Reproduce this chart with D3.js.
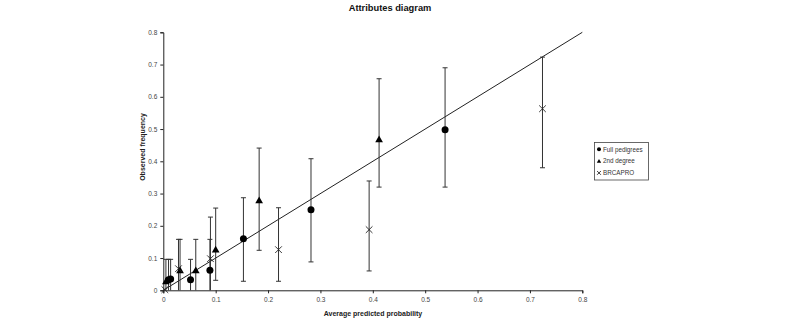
<!DOCTYPE html>
<html>
<head>
<meta charset="utf-8">
<script src="https://cdn.jsdelivr.net/npm/d3@7"></script>
<style>
  body { margin: 0; background: #fff; }
  svg { font-family: "Liberation Sans", Arial, sans-serif; }
</style>
</head>
<body>
<div id="chart"></div>
<script>
// Attributes diagram: predicted vs observed, with 95% intervals

const ticks = [0, 0.1, 0.2, 0.3, 0.4, 0.5, 0.6, 0.7, 0.8];

// Full pedigrees
const fullX = [0.010, 0.014, 0.052, 0.089, 0.153, 0.282, 0.538];
const fullY = [0.033, 0.035, 0.033, 0.062, 0.160, 0.250, 0.498];
const fullLo = [0, 0, 0, 0, 0.028, 0.088, 0.320];
const fullHi = [0.096, 0.096, 0.096, 0.158, 0.287, 0.408, 0.690];

// 2nd degree
const secX = [0.005, 0.032, 0.062, 0.100, 0.183, 0.412];
const secY = [0.028, 0.062, 0.062, 0.126, 0.279, 0.468];
const secLo = [0, 0, 0, 0.031, 0.124, 0.320];
const secHi = [0.096, 0.158, 0.158, 0.255, 0.441, 0.656];

// BRCAPRO
const brcaX = [0.003, 0.029, 0.090, 0.220, 0.393, 0.724];
const brcaY = [0.002, 0.067, 0.098, 0.126, 0.188, 0.563];
const brcaLo = [0, 0, 0, 0.028, 0.060, 0.380];
const brcaHi = [0.002, 0.158, 0.227, 0.256, 0.339, 0.723];

const width = 785, height = 320;

const svg = d3.select('#chart')
    .append('svg')
    .attr('width', width)
    .attr('height', height);

const x = d3.scaleLinear().domain([0, 0.8]).range([163.3, 582.3]);
const y = d3.scaleLinear().domain([0, 0.8]).range([290.3, 32.3]);

function rows(xs, ys, lo, hi) {
    return xs.map((v, i) => ({ x: v, y: ys[i], lo: lo[i], hi: hi[i] }));
}

const series = [
    { name: 'Full pedigrees', shape: 'circle', data: rows(fullX, fullY, fullLo, fullHi) },
    { name: '2nd degree', shape: 'triangle', data: rows(secX, secY, secLo, secHi) },
    { name: 'BRCAPRO', shape: 'cross', data: rows(brcaX, brcaY, brcaLo, brcaHi) }
];

// Title
svg.append('text')
    .attr('x', 390)
    .attr('y', 11)
    .attr('text-anchor', 'middle')
    .attr('font-size', '9.3px')
    .attr('font-weight', 'bold')
    .attr('fill', '#111')
    .text('Attributes diagram');

// Axes
const xAxis = svg.append('g')
    .attr('transform', `translate(0,${y(0)})`)
    .call(d3.axisBottom(x).tickValues(ticks).tickSize(3).tickFormat(d => d === 0 ? '0' : d3.format('.1f')(d)));

const yAxis = svg.append('g')
    .attr('transform', `translate(${x(0)},0)`)
    .call(d3.axisLeft(y).tickValues(ticks).tickSize(3).tickFormat(d => d === 0 ? '0' : d3.format('.1f')(d)));

[xAxis, yAxis].forEach(a => {
    a.select('.domain').attr('stroke', '#222').attr('stroke-width', 1);
    a.selectAll('.tick line').attr('stroke', '#222');
    a.selectAll('.tick text')
        .attr('font-size', '6.5px')
        .attr('fill', '#444')
        .attr('font-family', '"Liberation Sans", Arial, sans-serif');
});
xAxis.selectAll('.tick text').attr('dy', '0.9em');
yAxis.selectAll('.tick text').attr('x', -6);

// Axis titles
svg.append('text')
    .attr('x', 373)
    .attr('y', 316)
    .attr('text-anchor', 'middle')
    .attr('font-size', '7px')
    .attr('font-weight', 'bold')
    .attr('fill', '#222')
    .text('Average predicted probability');

svg.append('text')
    .attr('transform', `translate(144.5,147) rotate(-90)`)
    .attr('text-anchor', 'middle')
    .attr('font-size', '7px')
    .attr('font-weight', 'bold')
    .attr('fill', '#222')
    .text('Observed frequency');

// Diagonal (perfect calibration)
svg.append('line')
    .attr('x1', x(0)).attr('y1', y(0))
    .attr('x2', x(0.8)).attr('y2', y(0.8))
    .attr('stroke', '#222')
    .attr('stroke-width', 1);

// Error bars
const cap = 2.5;
series.forEach(s => {
    const g = svg.append('g');
    s.data.filter(d => d.hi > d.lo + 0.005).forEach(d => {
        g.append('line')
            .attr('x1', x(d.x)).attr('x2', x(d.x))
            .attr('y1', y(d.lo)).attr('y2', y(d.hi))
            .attr('stroke', '#333').attr('stroke-width', 1);
        g.append('line')
            .attr('x1', x(d.x) - cap).attr('x2', x(d.x) + cap)
            .attr('y1', y(d.hi)).attr('y2', y(d.hi))
            .attr('stroke', '#333').attr('stroke-width', 1);
        if (d.lo > 0) {
            g.append('line')
                .attr('x1', x(d.x) - cap).attr('x2', x(d.x) + cap)
                .attr('y1', y(d.lo)).attr('y2', y(d.lo))
                .attr('stroke', '#333').attr('stroke-width', 1);
        }
    });
});

// Markers
function drawMarker(g, shape, cx, cy, size) {
    if (shape === 'circle') {
        g.append('circle').attr('cx', cx).attr('cy', cy).attr('r', size)
            .attr('fill', '#000');
    } else if (shape === 'triangle') {
        const s = size * 1.1;
        g.append('path')
            .attr('d', `M${cx},${cy - s}L${cx + s},${cy + s * 0.75}L${cx - s},${cy + s * 0.75}Z`)
            .attr('fill', '#000');
    } else {
        const s = size * 0.95;
        g.append('path')
            .attr('d', `M${cx - s},${cy - s}L${cx + s},${cy + s}M${cx - s},${cy + s}L${cx + s},${cy - s}`)
            .attr('stroke', '#222').attr('stroke-width', 0.9).attr('fill', 'none');
    }
}

series.forEach(s => {
    const g = svg.append('g');
    s.data.forEach(d => drawMarker(g, s.shape, x(d.x), y(d.y), 3.5));
});

// Legend
const legend = svg.append('g').attr('transform', 'translate(594.5,142.5)');
legend.append('rect')
    .attr('width', 54).attr('height', 37.5)
    .attr('fill', '#fff').attr('stroke', '#444').attr('stroke-width', 0.8);

series.forEach((s, i) => {
    const ly = 6.8 + i * 11.8;
    drawMarker(legend, s.shape, 4.5, ly, 2);
    legend.append('text')
        .attr('x', 8.5)
        .attr('y', ly + 2.3)
        .attr('font-size', '6.3px')
        .attr('fill', '#333')
        .text(s.name);
});
</script>
</body>
</html>
